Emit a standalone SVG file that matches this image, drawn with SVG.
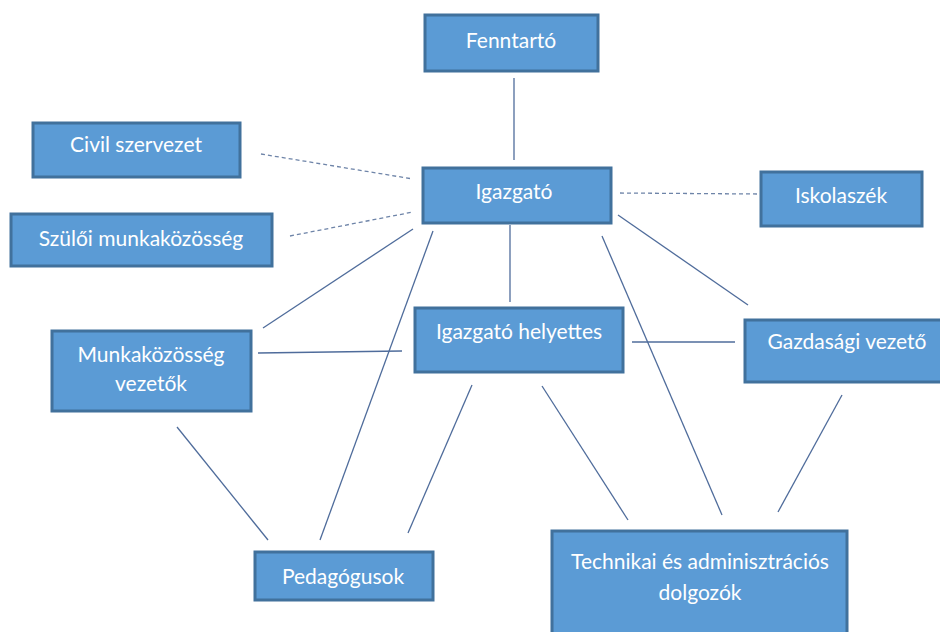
<svg xmlns="http://www.w3.org/2000/svg" width="940" height="632" viewBox="0 0 940 632">
<style>
.box{fill:#5B9BD5;stroke:#41719C;stroke-width:3}
.t{font-family:Lato,"Open Sans","Liberation Sans",sans-serif;font-size:21px;fill:#fff;text-anchor:middle}
.c{stroke:#4F6C9B;stroke-width:1.3;fill:none}
.d{stroke:#6E84A8;stroke-width:1.3;stroke-dasharray:4 3;fill:none}
</style>
<rect width="940" height="632" fill="#fff"/>
<g id="connectors">
<line class="c" x1="514" y1="78" x2="514" y2="160"/>
<line class="d" x1="261" y1="154" x2="413" y2="179"/>
<line class="d" x1="290" y1="236" x2="413" y2="212"/>
<line class="d" x1="620" y1="193" x2="757" y2="194"/>
<line class="c" x1="413" y1="229" x2="263" y2="328"/>
<line class="c" x1="433" y1="231" x2="320" y2="540"/>
<line class="c" x1="510" y1="225" x2="510" y2="302"/>
<line class="c" x1="602" y1="236" x2="722" y2="515"/>
<line class="c" x1="618" y1="215" x2="748" y2="305"/>
<line class="c" x1="258" y1="353" x2="402" y2="351"/>
<line class="c" x1="632" y1="342" x2="735" y2="342"/>
<line class="c" x1="177" y1="427" x2="268" y2="540"/>
<line class="c" x1="472" y1="385" x2="408" y2="533"/>
<line class="c" x1="542" y1="386" x2="628" y2="520"/>
<line class="c" x1="842" y1="395" x2="778" y2="512"/>
</g>
<g id="fenntarto"><rect class="box" x="425" y="15" width="173" height="56"/><text class="t" x="511" y="48">Fenntartó</text></g>
<g id="civil"><rect class="box" x="33" y="123" width="207" height="54"/><text class="t" x="136" y="152">Civil szervezet</text></g>
<g id="szuloi"><rect class="box" x="11" y="214" width="261" height="52"/><text class="t" x="141" y="246">Szülői munkaközösség</text></g>
<g id="igazgato"><rect class="box" x="423" y="168" width="188" height="55"/><text class="t" x="514" y="199">Igazgató</text></g>
<g id="iskolaszek"><rect class="box" x="761" y="172" width="161" height="54"/><text class="t" x="841" y="203">Iskolaszék</text></g>
<g id="munkakozosseg"><rect class="box" x="52" y="331" width="199" height="80"/><text class="t" x="151" y="362">Munkaközösség</text><text class="t" x="151" y="391">vezetők</text></g>
<g id="helyettes"><rect class="box" x="415" y="308" width="208" height="64"/><text class="t" x="519" y="339">Igazgató helyettes</text></g>
<g id="gazdasagi"><rect class="box" x="745" y="320" width="198" height="62"/><text class="t" x="847" y="349">Gazdasági vezető</text></g>
<g id="pedagogusok"><rect class="box" x="255" y="552" width="178" height="48"/><text class="t" x="343" y="584">Pedagógusok</text></g>
<g id="technikai"><rect class="box" x="552" y="531" width="295" height="105"/><text class="t" x="700" y="569">Technikai és adminisztrációs</text><text class="t" x="700" y="600">dolgozók</text></g>
</svg>
